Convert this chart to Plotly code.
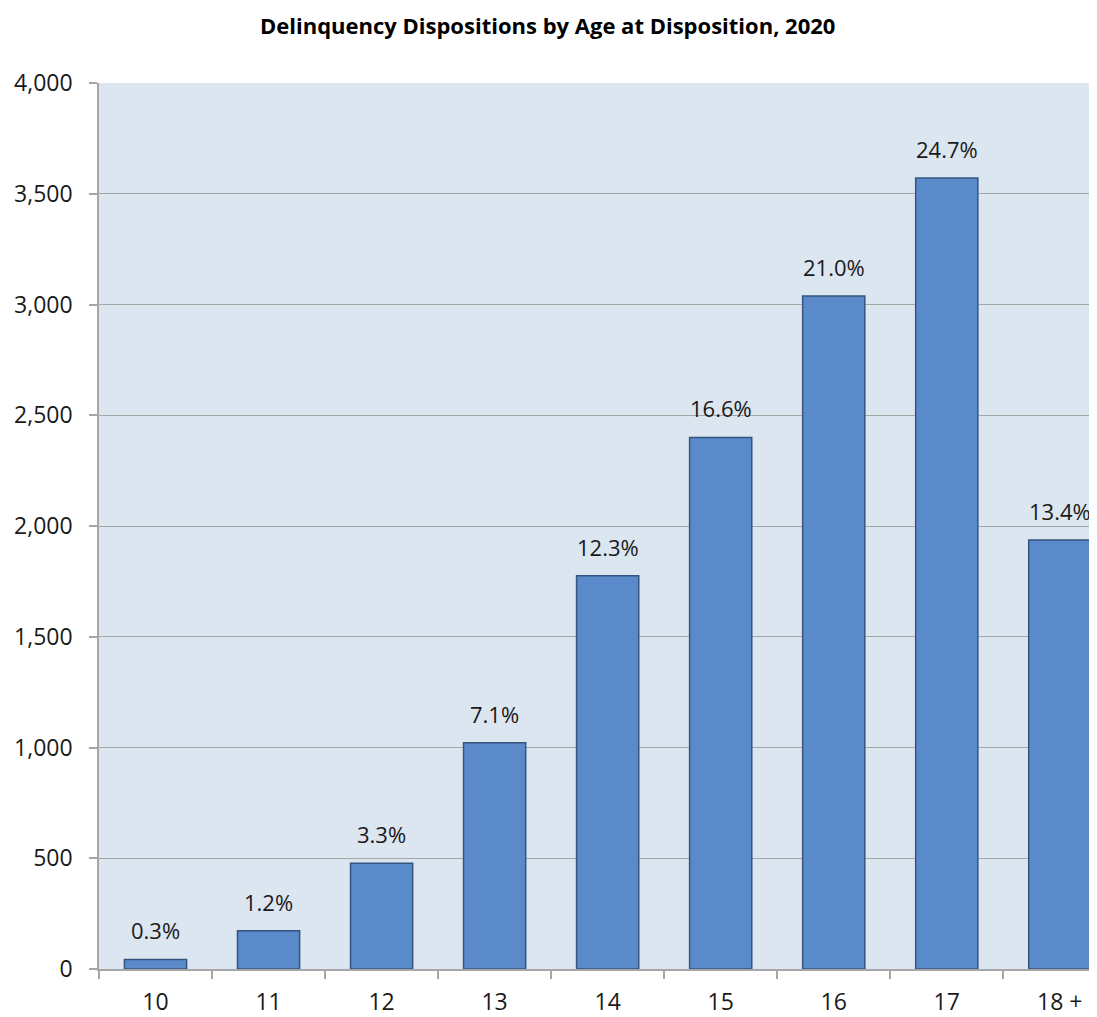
import plotly.graph_objects as go

ages = ["10", "11", "12", "13", "14", "15", "16", "17", "18 +"]
dispositions = [43, 173, 477, 1022, 1775, 2400, 3038, 3571, 1937]
pct_labels = ["0.3%", "1.2%", "3.3%", "7.1%", "12.3%", "16.6%", "21.0%", "24.7%", "13.4%"]
y_ticks = [0, 500, 1000, 1500, 2000, 2500, 3000, 3500, 4000]

font_name = "Open Sans"

fig = go.Figure()

fig.add_trace(go.Bar(
    x=ages, y=dispositions, width=0.55,
    marker=dict(color="#5A8AC9", line=dict(color="#34557F", width=1.5)),
    showlegend=False, hoverinfo="skip"))

# percent labels above each bar (x as category index, "10" etc. would be read as numbers)
for i, (v, t) in enumerate(zip(dispositions, pct_labels)):
    fig.add_annotation(x=i, y=v, text=t, showarrow=False, yanchor="bottom", yshift=12,
                       font=dict(size=22, color="#1a1a1a", family=font_name))

# page body has an 8px margin, so the figure is shifted accordingly
fig.update_layout(
    width=1097, height=1017,
    margin=dict(l=91, r=0, t=75, b=56, autoexpand=False),
    paper_bgcolor="white", plot_bgcolor="#DCE6F1",
    font=dict(family=font_name, size=22, color="#1a1a1a"),
    title=dict(text="<b>Delinquency Dispositions by Age at Disposition, 2020</b>",
               x=0.492, xanchor="center", y=0.982, yanchor="middle",
               font=dict(size=22, family=font_name, color="black")),
    bargap=0.45)

fig.update_xaxes(range=[-0.5, 8.40], tickson="boundaries", ticks="outside", ticklen=8,
                 tickcolor="#A6A6A6", tickwidth=1.5, showline=True, linecolor="#A6A6A6",
                 linewidth=1.5, showgrid=False, tickfont=dict(size=23), automargin=False,
                 ticklabelstandoff=12)
fig.update_yaxes(range=[0, 4000], tickvals=y_ticks, tickformat=",", ticks="outside", ticklen=8,
                 tickcolor="#A6A6A6", tickwidth=1.5, showline=True, linecolor="#A6A6A6",
                 linewidth=1.5, gridcolor="#A6A6A6", gridwidth=1.2, zeroline=False,
                 tickfont=dict(size=23), automargin=False, ticklabelstandoff=12)

fig.write_html("out.html")
